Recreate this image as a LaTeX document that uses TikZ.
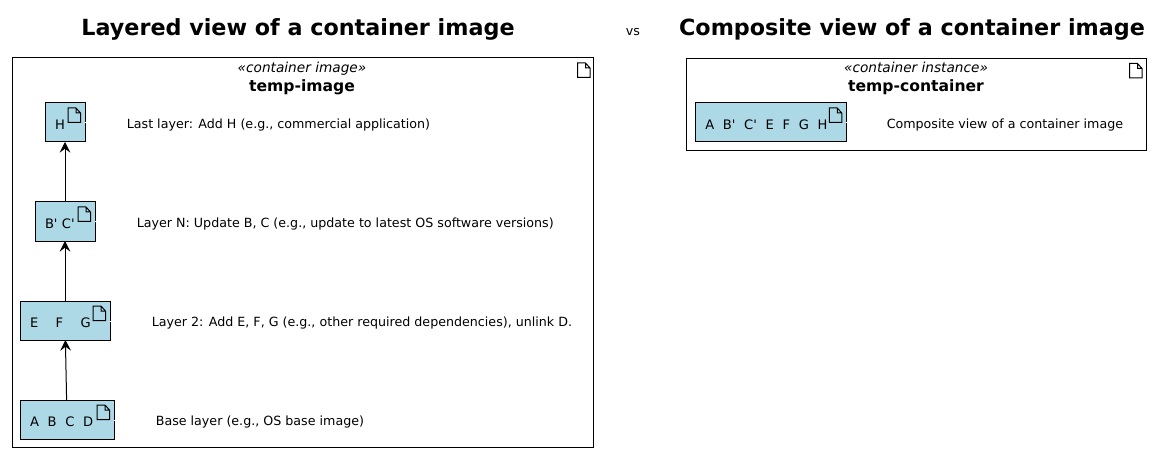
\documentclass[tikz,border=0pt]{standalone}
\usepackage{fontspec}
\setmainfont{DejaVu Sans}[Ligatures=TeXOff]
\usetikzlibrary{calc,positioning,arrows.meta}
\definecolor{layerblue}{HTML}{ADD8E6}
\newcommand{\DocIcon}[1]{%
  \pic at ($(#1.north east)+(-17,5)$) {docicon};
  \draw[white] ($(#1.east)+(-.5,.5)$) -- ++(1.5,0);}
\tikzset{
  docicon/.pic={\draw (0,0) -- (8,0) -- (12.5,5) -- (12.5,14.5) -- (0,14.5) -- cycle (8,0) -- (8,5) -- (12.5,5);},
  layer/.style={draw,fill=layerblue,outer sep=0pt,minimum height=29.25pt,inner xsep=7.5pt,inner ysep=0pt,text width=#1,align=left,text height=11.2pt,text depth=0pt,font=\fontsize{9.8}{11}\selectfont},
  note/.style={inner sep=0pt,yshift=-2.25pt,font=\fontsize{9.5}{11}\selectfont},
  artifact/.style={draw,outer sep=0pt,inner sep=0pt,minimum width=#1},
  stereo/.style={inner sep=0pt,anchor=base,font=\fontsize{10.25}{12}\selectfont\itshape},
  boxname/.style={inner sep=0pt,anchor=base,font=\fontsize{11.7}{14}\selectfont\bfseries},
  viewtitle/.style={inner sep=0pt,font=\fontsize{16.7}{19}\selectfont\bfseries}
}
\begin{document}
\begin{tikzpicture}[x=.75pt,y=-.75pt,line width=.75pt,node distance=31pt,>={Stealth[length=8pt,width=8pt,inset=3pt]}]
  \useasboundingbox (0,0) rectangle (1162,452);

  \node[viewtitle] (ltitle) at (298,29) {Layered view of a container image};
  \node[note] (vs) at (633,29) {vs};
  \node[viewtitle] (ctitle) at (912,29) {Composite view of a container image};

  % left box
  \node[artifact=435.75pt,minimum height=291.75pt] (image) at (303,252.5) {};
  \node[stereo] (imgst) at (302,73) {«container image»};
  \node[boxname] (imgname) at (302,92) {temp-image};

  \node[layer=55.5pt] (base) at (67,419.5) {A\ \ B\ \ C\ \ D};
  \node[layer=52.5pt,node distance=45pt,above=of base,xshift=-1.5pt] (ltwo) {E\ \ \ \ F\ \ \ \ G};
  \node[layer=30pt,node distance=45pt,above=of ltwo] (ln) {B' C'};
  \node[layer=15pt,node distance=45pt,above=of ln] (ltop) {H};

  \node[note,right=of ltop] (ltopnote) {Last layer: Add H (e.g., commercial application)};
  \node[note,right=of ln] (lnnote) {Layer N: Update B, C (e.g., update to latest OS software versions)};
  \node[note,right=of ltwo] (ltwonote) {Layer 2: Add E, F, G (e.g., other required dependencies), unlink D.};
  \node[note,right=of base] (basenote) {Base layer (e.g., OS base image)};

  \draw[->] (base) -- (ltwo);
  \draw[->] (ltwo) -- (ln);
  \draw[->] (ln) -- (ltop);

  % right box
  \node[artifact=345pt,minimum height=69pt] (inst) at (916.5,104.5) {};
  \node[stereo] (instst) at (916,73) {«container instance»};
  \node[boxname] (instname) at (916,92) {temp-container};
  \node[layer=98.25pt] (comp) at (770.75,122.5) {A\ \ B'\ \ C'\ \ E\ \ F\ \ G\ \ H};
  \node[note,right=30pt of comp] (compnote) {Composite view of a container image};

  \pic at ($(image.north east)+(-16,5)$) {docicon};
  \pic at ($(inst.north east)+(-17,5)$) {docicon};
  \DocIcon{base}
  \DocIcon{ltwo}
  \DocIcon{ln}
  \DocIcon{ltop}
  \DocIcon{comp}
\end{tikzpicture}
\end{document}
